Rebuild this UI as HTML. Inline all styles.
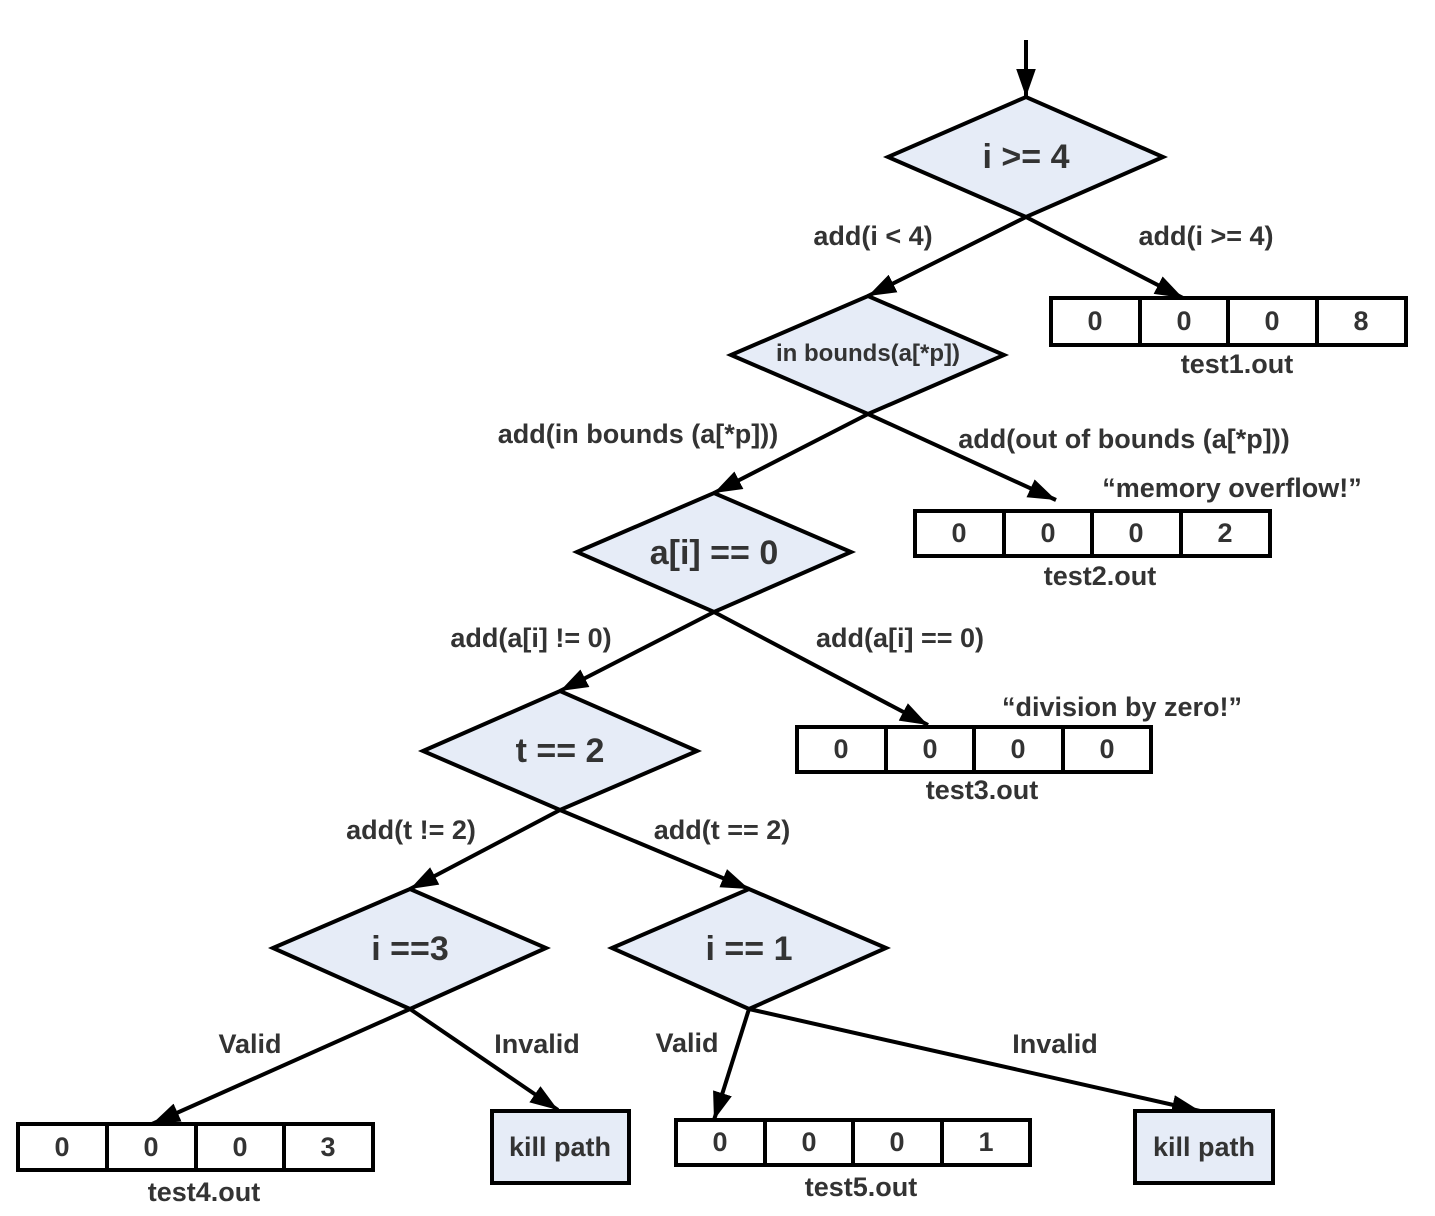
<!DOCTYPE html>
<html><head><meta charset="utf-8"><style>
html,body{margin:0;padding:0;background:#fff;}
svg text{font-family:"Liberation Sans",Arial,sans-serif;font-weight:bold;fill:#333;}
</style></head><body>
<svg width="1435" height="1211" viewBox="0 0 1435 1211" xmlns="http://www.w3.org/2000/svg">
<defs>
<marker id="a" markerWidth="10" markerHeight="10" refX="9" refY="5" orient="auto" markerUnits="userSpaceOnUse" viewBox="0 0 10 10">
</marker>
<marker id="ar" viewBox="0 0 20 14" refX="20" refY="7" markerWidth="28" markerHeight="20" orient="auto" markerUnits="userSpaceOnUse">
<path d="M0,0 L20,7 L0,14 Z" fill="#000"/>
</marker>
</defs>
<g stroke="#000" stroke-width="4" fill="none" marker-end="url(#ar)">
<line x1="1026" y1="40" x2="1026" y2="97"/>
<line x1="1026" y1="217" x2="868" y2="296"/>
<line x1="1026" y1="217" x2="1183" y2="298"/>
<line x1="868" y1="414" x2="714" y2="493"/>
<line x1="868" y1="414" x2="1056" y2="500"/>
<line x1="714" y1="612" x2="560" y2="691"/>
<line x1="714" y1="612" x2="928" y2="725"/>
<line x1="560" y1="810" x2="410" y2="889"/>
<line x1="560" y1="810" x2="749" y2="889"/>
<line x1="410" y1="1009" x2="152" y2="1124"/>
<line x1="410" y1="1009" x2="558" y2="1110"/>
<line x1="749" y1="1009" x2="714" y2="1120"/>
<line x1="749" y1="1009" x2="1200" y2="1111"/>
</g>
<g stroke="#000" stroke-width="4" fill="#e6ecf7">
<polygon points="888,157 1026,97 1163,157 1026,217"/>
<polygon points="731,355 868,296 1004,355 868,414"/>
<polygon points="577,552 714,493 851,552 714,612"/>
<polygon points="423,751 560,691 697,751 560,810"/>
<polygon points="273,948 410,889 546,948 410,1009"/>
<polygon points="612,948 749,889 886,948 749,1009"/>
<rect x="492" y="1111" width="137" height="72"/>
<rect x="1135" y="1111" width="138" height="72"/>
</g>
<g stroke="#000" stroke-width="4" fill="#fff">
<rect x="1051" y="298" width="355" height="47"/><line x1="1140" y1="298" x2="1140" y2="345"/><line x1="1228" y1="298" x2="1228" y2="345"/><line x1="1317" y1="298" x2="1317" y2="345"/>
<rect x="915" y="511" width="355" height="45"/><line x1="1004" y1="511" x2="1004" y2="556"/><line x1="1092" y1="511" x2="1092" y2="556"/><line x1="1181" y1="511" x2="1181" y2="556"/>
<rect x="797" y="727" width="354" height="45"/><line x1="886" y1="727" x2="886" y2="772"/><line x1="974" y1="727" x2="974" y2="772"/><line x1="1063" y1="727" x2="1063" y2="772"/>
<rect x="18" y="1124" width="355" height="46"/><line x1="107" y1="1124" x2="107" y2="1170"/><line x1="196" y1="1124" x2="196" y2="1170"/><line x1="284" y1="1124" x2="284" y2="1170"/>
<rect x="676" y="1120" width="354" height="45"/><line x1="765" y1="1120" x2="765" y2="1165"/><line x1="853" y1="1120" x2="853" y2="1165"/><line x1="942" y1="1120" x2="942" y2="1165"/>
</g>
<g text-anchor="middle" font-size="34">
<text x="1026" y="168">i &gt;= 4</text>
<text x="714" y="564">a[i] == 0</text>
<text x="560" y="762">t == 2</text>
<text x="410" y="960">i ==3</text>
<text x="749" y="960">i == 1</text>
<text x="868" y="361" font-size="24">in bounds(a[*p])</text>
</g>
<g text-anchor="middle" font-size="27">
<text x="1095" y="330">0</text><text x="1184" y="330">0</text><text x="1272" y="330">0</text><text x="1361" y="330">8</text>
<text x="959" y="542">0</text><text x="1048" y="542">0</text><text x="1136" y="542">0</text><text x="1225" y="542">2</text>
<text x="841" y="758">0</text><text x="930" y="758">0</text><text x="1018" y="758">0</text><text x="1107" y="758">0</text>
<text x="62" y="1156">0</text><text x="151" y="1156">0</text><text x="240" y="1156">0</text><text x="328" y="1156">3</text>
<text x="720" y="1151">0</text><text x="809" y="1151">0</text><text x="897" y="1151">0</text><text x="986" y="1151">1</text>
<text x="1237" y="373">test1.out</text>
<text x="1100" y="585">test2.out</text>
<text x="982" y="799">test3.out</text>
<text x="204" y="1201">test4.out</text>
<text x="861" y="1196">test5.out</text>
<text x="560" y="1156">kill path</text>
<text x="1204" y="1156">kill path</text>
<text x="873" y="245">add(i &lt; 4)</text>
<text x="1206" y="245">add(i &gt;= 4)</text>
<text x="638" y="443">add(in bounds (a[*p]))</text>
<text x="1124" y="448">add(out of bounds (a[*p]))</text>
<text x="1232" y="497">“memory overflow!”</text>
<text x="531" y="647">add(a[i] != 0)</text>
<text x="900" y="647">add(a[i] == 0)</text>
<text x="1122" y="716">“division by zero!”</text>
<text x="411" y="839">add(t != 2)</text>
<text x="722" y="839">add(t == 2)</text>
<text x="250" y="1053">Valid</text>
<text x="537" y="1053">Invalid</text>
<text x="687" y="1052">Valid</text>
<text x="1055" y="1053">Invalid</text>
</g>
</svg>
</body></html>
